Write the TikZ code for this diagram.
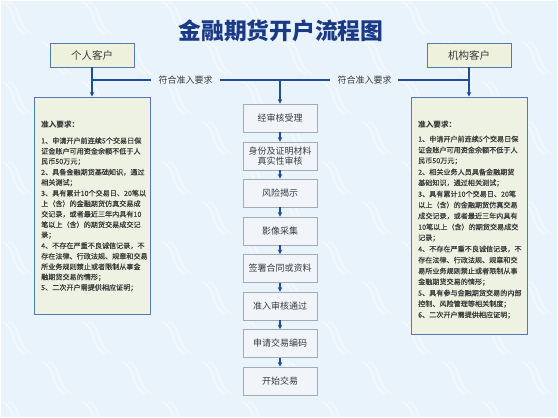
\documentclass[tikz,border=0pt]{standalone}
\usepackage{fontspec}
\setmainfont{Noto Sans CJK SC}
\newfontfamily\cjkdense{Noto Sans CJK SC}[FakeBold=0.5]
\usetikzlibrary{arrows.meta,shadows}
\definecolor{bgc}{HTML}{E8F3FB}
\definecolor{navy}{HTML}{1B3A86}
\definecolor{linec}{HTML}{1F4C9C}
\definecolor{custfill}{HTML}{EEF2DC}
\definecolor{custdraw}{HTML}{5677B5}
\definecolor{panelfill}{HTML}{EEF2E3}
\definecolor{stepfill}{HTML}{F1F5F9}
\definecolor{stepdraw}{HTML}{A3ABB3}
\definecolor{txt}{HTML}{3A3A3A}
\tikzset{
  custbox/.style={draw=custdraw,line width=0.9pt,fill=custfill,minimum width=84pt,minimum height=24pt,inner sep=0pt,text=txt,font=\fontsize{10.5}{12}\selectfont},
  panelbox/.style={draw=custdraw,line width=1pt,fill=panelfill,inner sep=0pt,drop shadow={shadow xshift=0.8pt,shadow yshift=-0.8pt,opacity=0.25}},
  stepbox/.style={draw=stepdraw,line width=0.8pt,fill=stepfill,minimum width=74pt,minimum height=28pt,inner sep=0pt,text=txt,align=center,font=\fontsize{9}{10}\selectfont},
  reqlabel/.style={inner sep=0pt,text=txt,font=\fontsize{9}{10}\selectfont},
  ptext/.style={anchor=west,inner sep=0pt,text=txt,font=\fontsize{7.1}{8}\cjkdense},
  phead/.style={anchor=west,inner sep=0pt,text=txt,font=\fontsize{7.6}{8}\selectfont\bfseries},
  flow/.style={draw=linec,line width=1.6pt},
  arr/.style={draw=linec,line width=1.2pt,-{Stealth[length=4.5pt,width=4.5pt]}},
  wm/.style={draw=white,line width=1.8pt,opacity=0.45,line cap=round}
}
\begin{document}
\begin{tikzpicture}[x=1pt,y=-1pt]
\useasboundingbox (0,0) rectangle (558,418);
\fill[bgc] (0,0) rectangle (558,418);
% watermark
\foreach \r in {0,...,10}{
  \pgfmathsetmacro{\off}{mod(\r,2)*40}
  \foreach \c in {-1,...,7}{
    \begin{scope}[shift={({\c*80+\off+2},{\r*40+2})}]
      \draw[wm] (0,0) .. controls (14,4) and (8,26) .. (24,32);
      \draw[wm] (6,0) .. controls (20,4) and (14,26) .. (30,32);
    \end{scope}
  }
}
\draw[white,line width=1pt] (0.5,0.5) rectangle (557.5,417.5);

% title
\node[text=navy,inner sep=0pt,font=\fontsize{22.8}{24}\selectfont\bfseries] (title) at (281,31) {金融期货开户流程图};

% customer boxes
\node[custbox] (pc) at (92,55) {个人客户};
\node[custbox] (oc) at (469,55) {机构客户};

% panels
\node[panelbox,minimum width=116pt,minimum height=217pt] (lp) at (92,205.5) {};
\node[panelbox,minimum width=116pt,minimum height=237pt] (rp) at (469,215.5) {};

% labels
\node[reqlabel] (ll) at (185.5,80) {符合准入要求};
\node[reqlabel] (rl) at (364.5,80) {符合准入要求};

% junctions
\coordinate (jl) at (92,80);
\coordinate (jc) at (280,80);
\coordinate (jr) at (469,80);

% steps
\node[stepbox] (s1) at (280,118) {经审核受理};
\node[stepbox] (s2) at (280,156) {身份及证明材料\\真实性审核};
\node[stepbox] (s3) at (280,193) {风险揭示};
\node[stepbox] (s4) at (280,231) {影像采集};
\node[stepbox] (s5) at (280,268.5) {签署合同或资料};
\node[stepbox] (s6) at (280,306) {准入审核通过};
\node[stepbox] (s7) at (280,343.5) {申请交易编码};
\node[stepbox] (s8) at (280,381) {开始交易};

% connectors
\draw[flow] (jl) -- ([xshift=-7pt]ll.west);
\draw[flow] ([xshift=7pt]ll.east) -- ([xshift=-7pt]rl.west);
\draw[flow] ([xshift=6pt]rl.east) -- (jr);
\draw[arr] (pc.south) -- (lp.north);
\draw[arr] (oc.south) -- (rp.north);
\draw[arr] (jc) -- (s1.north);
\foreach \a/\b in {s1/s2,s2/s3,s3/s4,s4/s5,s5/s6,s6/s7,s7/s8}
  \draw[arr] (\a.south) -- (\b.north);

% left panel text
\node[phead] (lh) at (41,125) {准入要求：};
\foreach \t [count=\i] in {
 {1、申请开户前连续5个交易日保},
 {证金账户可用资金余额不低于人},
 {民币50万元；},
 {2、具备金融期货基础知识，通过},
 {相关测试；},
 {3、具有累计10个交易日、20笔以},
 {上（含）的金融期货仿真交易成},
 {交记录，或者最近三年内具有10},
 {笔以上（含）的期货交易成交记},
 {录；},
 {4、不存在严重不良诚信记录，不},
 {存在法律、行政法规、规章和交易},
 {所业务规则禁止或者限制从事金},
 {融期货交易的情形；},
 {5、二次开户需提供相应证明；}}
 \node[ptext] (lt\i) at (41,{140.7+(\i-1)*10.5}) {\t};

% right panel text
\node[phead] (rh) at (418,125) {准入要求：};
\foreach \t [count=\i] in {
 {1、申请开户前连续5个交易日保},
 {证金账户可用资金余额不低于人},
 {民币50万元；},
 {2、相关业务人员具备金融期货},
 {基础知识，通过相关测试；},
 {3、具有累计10个交易日、20笔},
 {以上（含）的金融期货仿真交易},
 {成交记录，或者最近三年内具有},
 {10笔以上（含）的期货交易成交},
 {记录；},
 {4、不存在严重不良诚信记录，不},
 {存在法律、行政法规、规章和交},
 {易所业务规则禁止或者限制从事},
 {金融期货交易的情形；},
 {5、具有参与金融期货交易的内部},
 {控制、风险管理等相关制度；},
 {6、二次开户需提供相应证明；}}
 \node[ptext] (rt\i) at (418,{139+(\i-1)*11}) {\t};
\end{tikzpicture}
\end{document}
